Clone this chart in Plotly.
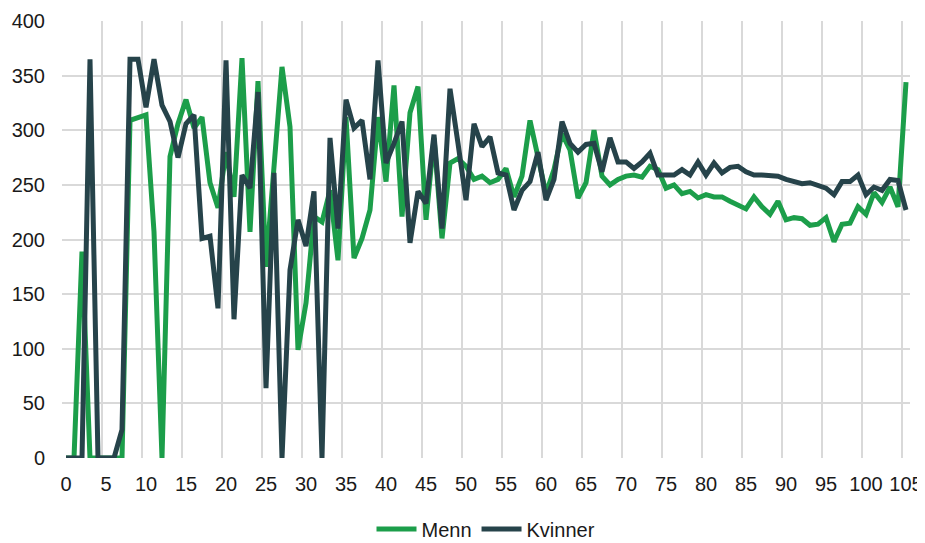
import plotly.graph_objects as go

ages = list(range(0, 106))

menn = [0, 0, 189, 0, 0, 0, 0, 0, 309, 311,
        314, 207, 0, 276, 306, 328, 302, 312, 252, 229,
        280, 239, 366, 207, 345, 175, 262, 358, 303, 99,
        142, 221, 216, 245, 181, 312, 183, 201, 227, 312,
        253, 341, 221, 316, 340, 218, 293, 201, 270, 274,
        267, 255, 258, 252, 255, 265, 239, 258, 309, 276,
        242, 264, 297, 282, 238, 252, 300, 258, 250, 255,
        258, 259, 257, 267, 264, 247, 250, 242, 244, 238,
        241, 239, 239, 235, 231, 228, 239, 230, 223, 235,
        218, 220, 219, 213, 214, 220, 198, 214, 215, 230,
        223, 243, 234, 248, 230, 344]

kvinner = [0, 0, 0, 365, 0, 0, 0, 26, 365, 365,
           321, 365, 323, 308, 275, 306, 314, 201, 203, 137,
           364, 127, 259, 247, 335, 64, 261, 0, 172, 218,
           194, 244, 0, 293, 210, 328, 302, 309, 255, 364,
           270, 288, 308, 197, 244, 233, 296, 210, 338, 288,
           236, 306, 285, 294, 261, 259, 227, 245, 253, 280,
           236, 255, 308, 288, 280, 287, 288, 262, 293, 271,
           271, 265, 271, 279, 259, 259, 259, 264, 259, 271,
           259, 270, 261, 266, 267, 262, 259, 259, 258, 258,
           255, 253, 251, 252, 250, 247, 241, 253, 253, 259,
           241, 248, 245, 255, 254, 227]

x_ticks = list(range(0, 106, 5))
x_grid = [v - 0.5 for v in x_ticks]
y_ticks = list(range(0, 401, 50))

GREEN = "#1c9e4a"
DARK = "#26434a"
GRID = "#d9d9d9"
TXT = "#1a1a1a"
FONT = "Liberation Sans, Arial, sans-serif"

fig = go.Figure()
fig.add_trace(go.Scatter(x=ages, y=menn, name="Menn", mode="lines",
                         line=dict(color=GREEN, width=5)))
fig.add_trace(go.Scatter(x=ages, y=kvinner, name="Kvinner", mode="lines",
                         line=dict(color=DARK, width=5)))
# invisible helper trace to activate the label axis
fig.add_trace(go.Scatter(x=[ages[0]], y=[0], xaxis="x2", mode="none",
                         showlegend=False, hoverinfo="skip"))

fig.update_layout(
    width=917, height=535,
    margin=dict(l=54, r=15, t=13, b=85, autoexpand=False),
    paper_bgcolor="white", plot_bgcolor="white",
    font=dict(family=FONT, size=20, color=TXT),
    showlegend=True,
    legend=dict(orientation="h", x=0.5, xanchor="center", y=-0.118,
                yanchor="top", font=dict(size=20, color=TXT),
                traceorder="normal", itemwidth=40),
    xaxis=dict(range=[-0.5, 105.5], tickmode="array", tickvals=x_grid,
               showticklabels=False, showgrid=True, gridcolor=GRID,
               gridwidth=2, zeroline=False, showline=False, ticks=""),
    xaxis2=dict(range=[-0.5, 105.5], overlaying="x", side="bottom",
                tickmode="array", tickvals=x_ticks,
                ticktext=[str(v) for v in x_ticks], showgrid=False,
                zeroline=False, showline=False, ticks="",
                ticklabelstandoff=12,
                tickfont=dict(size=20, color=TXT)),
    yaxis=dict(range=[0, 400], tickmode="array", tickvals=y_ticks,
               showgrid=True, gridcolor=GRID, gridwidth=2, zeroline=False,
               showline=False, ticks="", ticklabelstandoff=16,
               tickfont=dict(size=20, color=TXT)),
)

fig.write_html("out.html")
